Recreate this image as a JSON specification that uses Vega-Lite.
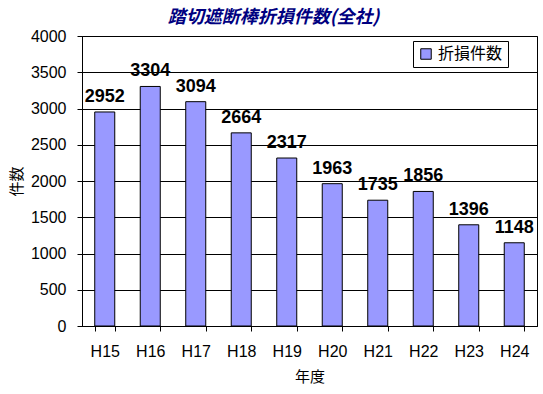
{
  "$schema": "https://vega.github.io/schema/vega-lite/v6.json",
  "autosize": {"type": "none"},
  "width": 455,
  "height": 290,
  "padding": {"left": 82, "top": 36, "right": 6, "bottom": 68},
  "background": "white",
  "title": {
    "text": "踏切遮断棒折損件数(全社)",
    "font": "Noto Sans CJK JP",
    "fontSize": 18,
    "fontWeight": "bold",
    "fontStyle": "italic",
    "color": "#000080",
    "anchor": "middle",
    "dx": -36,
    "offset": 1
  },
  "data": {
    "values": [
      {"year": "H15", "count": 2952, "series": "折損件数"},
      {"year": "H16", "count": 3304, "series": "折損件数"},
      {"year": "H17", "count": 3094, "series": "折損件数"},
      {"year": "H18", "count": 2664, "series": "折損件数"},
      {"year": "H19", "count": 2317, "series": "折損件数"},
      {"year": "H20", "count": 1963, "series": "折損件数"},
      {"year": "H21", "count": 1735, "series": "折損件数"},
      {"year": "H22", "count": 1856, "series": "折損件数"},
      {"year": "H23", "count": 1396, "series": "折損件数"},
      {"year": "H24", "count": 1148, "series": "折損件数"}
    ]
  },
  "encoding": {
    "x": {
      "field": "year",
      "type": "nominal",
      "sort": null,
      "scale": {"paddingInner": 0.56, "paddingOuter": 0.28},
      "axis": {
        "title": "年度",
        "titleFont": "Noto Sans CJK JP",
        "titleFontSize": 15,
        "titleFontWeight": "normal",
        "titleColor": "black",
        "titlePadding": 10,
        "labelAngle": 0,
        "labelFont": "Liberation Sans",
        "labelFontSize": 16,
        "labelColor": "black",
        "labelPadding": 12,
        "tickBand": "extent",
        "tickColor": "black",
        "tickSize": 5,
        "domainColor": "black",
        "grid": false
      }
    },
    "y": {
      "field": "count",
      "type": "quantitative",
      "scale": {"domain": [0, 4000], "nice": false},
      "axis": {
        "title": "件数",
        "titleFont": "Noto Sans CJK JP",
        "titleFontSize": 15,
        "titleFontWeight": "normal",
        "titleColor": "black",
        "titlePadding": 6,
        "values": [0, 500, 1000, 1500, 2000, 2500, 3000, 3500, 4000],
        "format": "d",
        "labelFont": "Liberation Sans",
        "labelFontSize": 16,
        "labelColor": "black",
        "labelPadding": 11,
        "tickColor": "black",
        "tickSize": 5,
        "domainColor": "black",
        "grid": true,
        "gridColor": "black",
        "gridWidth": 1
      }
    }
  },
  "layer": [
    {
      "mark": {"type": "bar", "stroke": "black", "strokeWidth": 1},
      "encoding": {
        "color": {
          "field": "series",
          "type": "nominal",
          "scale": {"range": ["#9999FF"]},
          "legend": {
            "title": null,
            "orient": "none",
            "legendX": 331,
            "legendY": 5,
            "strokeColor": "black",
            "fillColor": "white",
            "padding": 5,
            "symbolType": "square",
            "symbolSize": 110,
            "symbolStrokeColor": "black",
            "symbolStrokeWidth": 1,
            "labelFont": "Noto Sans CJK JP",
            "labelFontSize": 16,
            "labelColor": "black"
          }
        }
      }
    },
    {
      "mark": {
        "type": "text",
        "baseline": "bottom",
        "dy": -6,
        "font": "Liberation Sans",
        "fontSize": 18,
        "fontWeight": "bold",
        "color": "black"
      },
      "encoding": {"text": {"field": "count", "type": "quantitative", "format": "d"}}
    }
  ],
  "config": {
    "view": {"stroke": "black", "strokeWidth": 1}
  }
}
